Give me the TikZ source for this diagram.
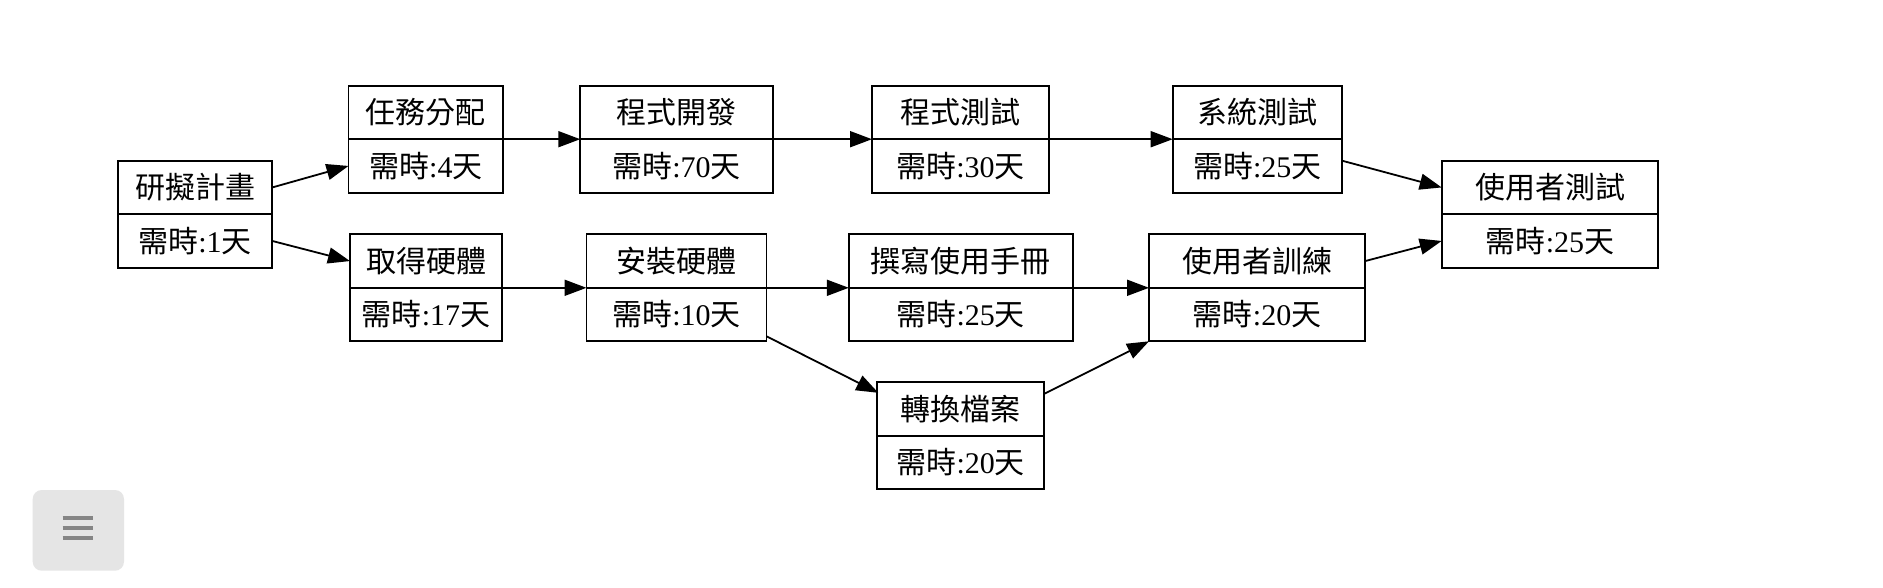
\documentclass[tikz,border=0pt]{standalone}
\usepackage{fontspec}
\setmainfont{Liberation Serif}
\newfontfamily\cjk{Noto Sans CJK TC}
\usetikzlibrary{arrows.meta,calc}
\definecolor{btnbg}{HTML}{E5E5E5}
\definecolor{btnbar}{HTML}{858585}
\newcommand\dur[1]{{\cjk 需時}:#1{\cjk 天}}
\tikzset{
  rtop/.style={draw, line width=1.8pt, inner sep=0pt, outer sep=0pt, minimum height=53.5pt, font=\cjk\fontsize{30}{33}\selectfont},
  rbot/.style={draw, line width=1.8pt, inner sep=0pt, outer sep=0pt, minimum height=53.5pt, font=\fontsize{30}{33}\selectfont},
  arr/.style={line width=1.8pt, -{Triangle[length=22pt,width=16pt]}},
}
\newcommand\rec[6]{%
  \node[rtop, minimum width=#4pt] (#1) at (#2,#3+26.75) {#5};
  \node[rbot, minimum width=#4pt] (#1d) at (#2,#3+80.25) {#6};}
\begin{document}
\begin{tikzpicture}[x=1pt,y=-1pt]
\useasboundingbox[fill=white] (0,0) rectangle (1883,587);
% records: name, center x, top y, width, title, duration
\rec{A}{195}{160.7}{154.5}{研擬計畫}{\dur{1}}
\rec{B}{425.9}{85.7}{154.8}{任務分配}{\dur{4}}
\rec{C}{426}{234.3}{152}{取得硬體}{\dur{17}}
\rec{D}{676.5}{85.7}{192.5}{程式開發}{\dur{70}}
\rec{E}{960.5}{85.7}{177}{程式測試}{\dur{30}}
\rec{F}{1257.3}{85.7}{169.2}{系統測試}{\dur{25}}
\rec{G}{1550}{160.7}{216.6}{使用者測試}{\dur{25}}
\rec{H}{676.5}{234.3}{180}{安裝硬體}{\dur{10}}
\rec{I}{960.7}{234.3}{223.8}{撰寫使用手冊}{\dur{25}}
\rec{J}{1257.1}{234.3}{216.2}{使用者訓練}{\dur{20}}
\rec{K}{960.8}{382.3}{167}{轉換檔案}{\dur{20}}
% edges
\draw[arr] (A.east) -- (Bd.west);
\draw[arr] (Ad.east) -- (C.west);
\draw[arr] (B.south east) -- (D.south west);
\draw[arr] (D.south east) -- (E.south west);
\draw[arr] (E.south east) -- (F.south west);
\draw[arr] ([yshift=5.3pt]Fd.east) -- (G.west);
\draw[arr] (J.east) -- (Gd.west);
\draw[arr] (C.south east) -- (H.south west);
\draw[arr] (H.south east) -- (I.south west);
\draw[arr] (I.south east) -- (J.south west);
\draw[arr] ([yshift=5pt]Hd.south east) -- ([xshift=1pt,yshift=-10.5pt]K.north west);
\draw[arr] ([yshift=-11.5pt]K.north east) -- (Jd.south west);
% menu button
\fill[btnbg, rounded corners=9pt] (32.7,490) rectangle (124,570.7);
\foreach \yy in {518.3,528.3,538.3}
  \draw[btnbar, line width=4pt] (62.7,\yy) -- (92.7,\yy);
\end{tikzpicture}
\end{document}
